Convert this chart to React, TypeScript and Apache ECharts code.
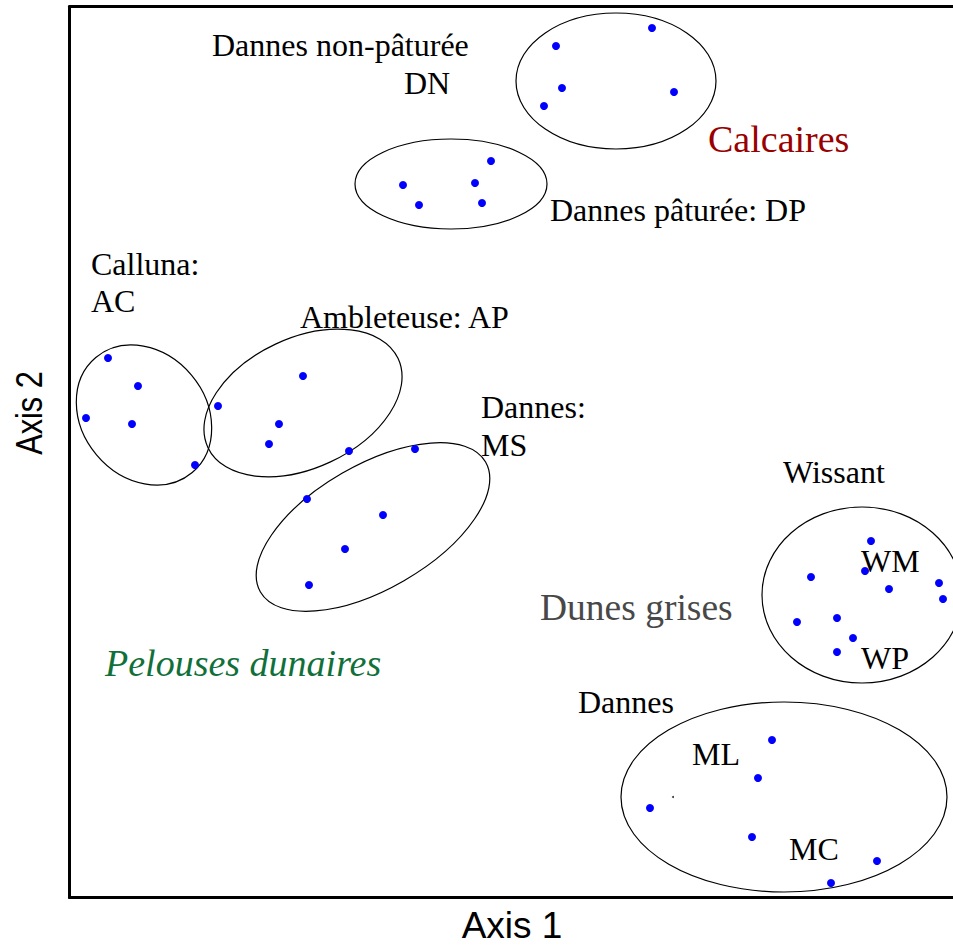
import React, { useEffect, useRef } from "react";
import * as echarts from "echarts";

// Point coordinates (axis units = picture pixels)
const dnPoints = [[556, 46], [652, 28], [562, 88], [544, 106], [674, 92]];
const dpPoints = [[403, 185], [419, 205], [475, 183], [491, 161], [482, 203]];
const acPoints = [[108, 358], [138, 386], [86, 418], [132, 424], [195, 465]];
const apPoints = [[218, 406], [303, 376], [279, 424], [269, 444], [349, 451]];
const msPoints = [[415, 449], [307, 499], [383, 515], [345, 549], [309, 585]];
const wPoints = [[871, 541], [811, 577], [865, 571], [889, 589], [939, 583], [943, 599], [797, 622], [837, 618], [853, 638], [837, 652]];
const mPoints = [[772, 740], [758, 778], [650, 808], [752, 837], [877, 861], [831, 883]];
const strayPoint = [[673, 797]];

// Ellipses: cx, cy, semi-axis a, semi-axis b, rotation (deg, ccw)
const ellipses = [
  [616, 81, 100, 68, 0],
  [451, 184, 96, 45, 0],
  [144, 415, 75, 62, -50],
  [303, 403, 105, 65, 25],
  [373, 527, 130, 62, 30],
  [862, 595, 100, 88, 0],
  [784, 797, 163, 95, 0],
];

const labels = [
  { text: "Dannes non-pâturée", x: 212, y: 45, size: 32, color: "#000", italic: false },
  { text: "DN", x: 404, y: 82.5, size: 32, color: "#000", italic: false },
  { text: "Calcaires", x: 708, y: 138.5, size: 38, color: "#990000", italic: false },
  { text: "Dannes pâturée: DP", x: 550, y: 210, size: 32, color: "#000", italic: false },
  { text: "Calluna:", x: 91, y: 264, size: 32, color: "#000", italic: false },
  { text: "AC", x: 91, y: 300.5, size: 32, color: "#000", italic: false },
  { text: "Ambleteuse: AP", x: 300, y: 317, size: 32, color: "#000", italic: false },
  { text: "Dannes:", x: 481, y: 407, size: 32, color: "#000", italic: false },
  { text: "MS", x: 481, y: 445, size: 32, color: "#000", italic: false },
  { text: "Wissant", x: 783, y: 471.5, size: 32, color: "#000", italic: false },
  { text: "WM", x: 861, y: 561, size: 32, color: "#000", italic: false },
  { text: "WP", x: 861, y: 657.5, size: 32, color: "#000", italic: false },
  { text: "Dunes grises", x: 540, y: 607.5, size: 37.5, color: "#484848", italic: false },
  { text: "Pelouses dunaires", x: 105, y: 662.5, size: 38, color: "#11703a", italic: true },
  { text: "Dannes", x: 578, y: 701.5, size: 32, color: "#000", italic: false },
  { text: "ML", x: 692, y: 753.5, size: 32, color: "#000", italic: false },
  { text: "MC", x: 789, y: 849, size: 32, color: "#000", italic: false },
];

export default function App() {
  const ref = useRef<HTMLDivElement>(null);
  useEffect(() => {
    document.body.style.margin = "0";
    const chart = echarts.init(ref.current!, undefined, { renderer: "svg" });
    const pointSeries = (data: number[][]) => ({
      type: "scatter",
      data,
      symbolSize: 8,
      itemStyle: { color: "#0000ff", opacity: 1 },
      z: 3,
    });
    const option: any = {
      animation: false,
      backgroundColor: "#fff",
      grid: { left: 69.5, top: 6.5, right: 0, bottom: 47.5 },
      xAxis: [
        {
          type: "value", min: 69.5, max: 953, position: "bottom",
          axisLine: { show: true, onZero: false, lineStyle: { color: "#000", width: 3 } },
          axisTick: { show: false }, axisLabel: { show: false }, splitLine: { show: false },
        },
        {
          type: "value", min: 69.5, max: 953, position: "top",
          axisLine: { show: true, onZero: false, lineStyle: { color: "#000", width: 3 } },
          axisTick: { show: false }, axisLabel: { show: false }, splitLine: { show: false },
        },
      ],
      yAxis: {
        type: "value", min: 6.5, max: 897.5, inverse: true,
        axisLine: { show: true, onZero: false, lineStyle: { color: "#000", width: 3 } },
        axisTick: { show: false }, axisLabel: { show: false }, splitLine: { show: false },
      },
      series: [
        {
          type: "custom",
          data: ellipses,
          z: 2,
          renderItem: (params: any, api: any) => {
            const c = api.coord([api.value(0), api.value(1)]);
            const s = api.size([api.value(2), api.value(3)]);
            return {
              type: "ellipse",
              x: c[0],
              y: c[1],
              rotation: (api.value(4) * Math.PI) / 180,
              shape: { cx: 0, cy: 0, rx: Math.abs(s[0]), ry: Math.abs(s[1]) },
              style: { fill: "none", stroke: "#000", lineWidth: 1.2 },
            };
          },
        },
        pointSeries(dnPoints),
        pointSeries(dpPoints),
        pointSeries(acPoints),
        pointSeries(apPoints),
        pointSeries(msPoints),
        pointSeries(wPoints),
        pointSeries(mPoints),
        {
          type: "scatter", data: strayPoint, symbolSize: 2,
          itemStyle: { color: "#000" }, z: 3,
        },
      ],
      graphic: [
        ...labels.map((l) => ({
          type: "text",
          x: l.x,
          y: l.y,
          z: 1,
          style: {
            text: l.text,
            fill: l.color,
            font: `${l.italic ? "italic " : ""}${l.size}px "Liberation Serif"`,
            textAlign: "left",
            textVerticalAlign: "middle",
          },
        })),
        {
          type: "text", x: 512, y: 925,
          style: { text: "Axis 1", fill: "#000", font: '37px "Liberation Sans"', textAlign: "center", textVerticalAlign: "middle" },
        },
        {
          type: "text", x: 28.5, y: 413, rotation: Math.PI / 2, scaleX: 0.83,
          style: { text: "Axis 2", fill: "#000", font: '37px "Liberation Sans"', textAlign: "center", textVerticalAlign: "middle" },
        },
      ],
    };
    chart.setOption(option);
    return () => chart.dispose();
  }, []);
  return <div ref={ref} style={{ width: 953, height: 945 }} />;
}
